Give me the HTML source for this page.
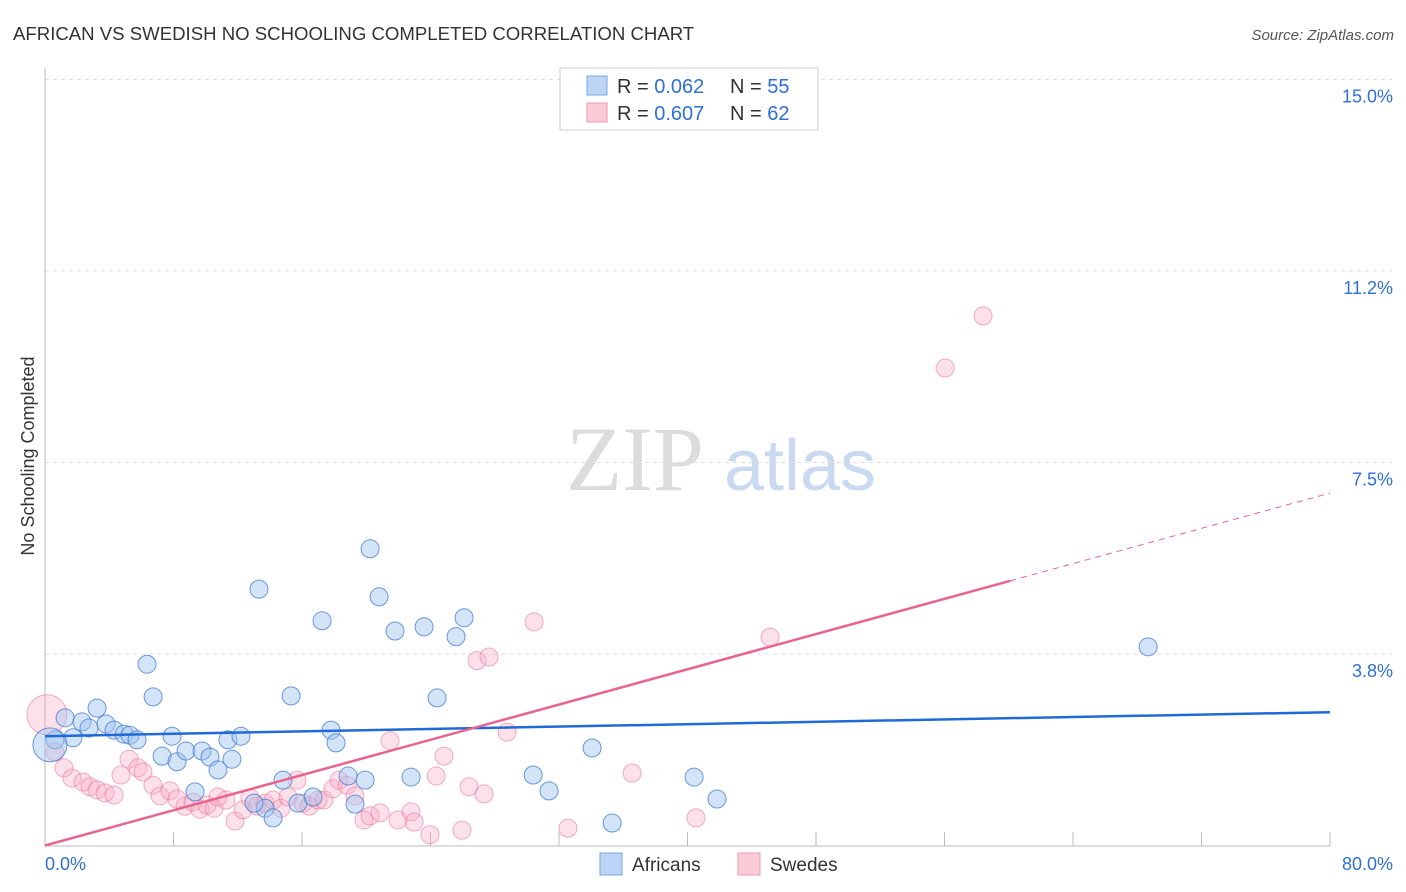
<!DOCTYPE html>
<html><head><meta charset="utf-8">
<style>
body{margin:0;background:#fff;font-family:"Liberation Sans",sans-serif;}
#wrap{position:relative;width:1406px;height:892px;overflow:hidden;}
</style></head>
<body>
<div id="wrap">
<svg id="svg" width="1406" height="892" xmlns="http://www.w3.org/2000/svg">
<text x="13" y="40" font-size="18.6" fill="#333">AFRICAN VS SWEDISH NO SCHOOLING COMPLETED CORRELATION CHART</text>
<text x="1394" y="40" font-size="15" fill="#555" font-style="italic" text-anchor="end">Source: ZipAtlas.com</text>
<text transform="translate(34,456) rotate(-90)" font-size="18" fill="#333" text-anchor="middle">No Schooling Completed</text>
<g>
<text x="635" y="490" font-size="92" fill="#dcdcdc" font-family="Liberation Serif,serif" text-anchor="middle">ZIP</text>
<text x="800" y="490" font-size="72" fill="#c9d9f0" text-anchor="middle">atlas</text>
</g>
<g id="grid"></g>
<g id="axes"></g>
<g id="pts"></g>
<g id="trend"></g>
<g>
<rect x="560" y="68" width="258" height="62" fill="#fff" stroke="#ccc"/>
<rect x="587" y="76" width="20" height="19" fill="#bcd5f5" stroke="#7aa6e0"/>
<rect x="587" y="103" width="20" height="19" fill="#fbcbd8" stroke="#ef9ab3"/>
<text x="617" y="93" font-size="20" fill="#333">R = <tspan fill="#2f6fd6">0.062</tspan></text>
<text x="730" y="93" font-size="20" fill="#333">N = <tspan fill="#2f6fd6">55</tspan></text>
<text x="617" y="120" font-size="20" fill="#333">R = <tspan fill="#2f6fd6">0.607</tspan></text>
<text x="730" y="120" font-size="20" fill="#333">N = <tspan fill="#2f6fd6">62</tspan></text>
</g>
<g>
<rect x="600" y="853" width="22" height="22" fill="#bcd5f5" stroke="#7aa6e0"/>
<text x="632" y="871" font-size="19" fill="#333">Africans</text>
<rect x="738" y="853" width="22" height="22" fill="#fbcbd8" stroke="#ef9ab3"/>
<text x="770" y="871" font-size="19" fill="#333">Swedes</text>
</g>
</svg>
</div>
<script>
const yTicks=[3.8,7.5,11.2,15.0];
const yTickVals=[3.75,7.5,11.25,15.0];
const xTickLabels=["0.0%","80.0%"];
const africansX=[0.62,1.25,1.74,2.30,2.74,3.24,3.80,4.30,4.92,5.29,5.73,6.35,6.73,7.29,7.91,8.22,8.78,9.34,9.78,10.27,10.77,11.39,11.64,12.20,13.32,13.70,14.20,14.82,15.32,15.75,16.69,17.25,17.81,18.12,18.87,19.30,19.93,20.24,20.80,21.79,22.79,23.60,24.41,25.59,26.09,30.39,31.38,34.06,35.31,40.41,41.84,68.68,13.01,0.31];
const africansY=[2.07,2.50,2.11,2.42,2.30,2.69,2.38,2.26,2.18,2.16,2.07,3.55,2.91,1.75,2.14,1.64,1.85,1.05,1.85,1.73,1.48,2.07,1.69,2.14,5.02,0.73,0.54,1.28,2.93,0.83,0.95,4.40,2.26,2.01,1.36,0.81,1.28,5.81,4.87,4.20,1.34,4.28,2.89,4.09,4.46,1.38,1.07,1.91,0.44,1.34,0.91,3.89,0.83,1.97];
const swedesX=[0.12,0.62,1.18,1.68,2.37,2.80,3.24,3.74,4.30,4.73,5.23,5.79,6.10,6.72,7.16,7.78,8.22,8.72,9.22,9.65,10.09,10.52,10.77,11.27,11.83,12.33,12.76,13.20,13.70,14.20,14.69,15.13,15.69,16.06,16.44,17.00,17.37,17.93,18.31,18.80,19.30,19.86,20.24,20.86,21.48,21.98,22.79,22.98,23.97,24.35,24.84,25.96,26.40,26.90,27.33,27.64,28.77,30.45,32.56,36.55,40.53,45.14,56.04,58.40];
const swedesY=[2.56,1.83,1.52,1.32,1.24,1.15,1.09,1.03,0.99,1.38,1.69,1.52,1.44,1.18,0.97,1.07,0.91,0.77,0.85,0.71,0.79,0.73,0.95,0.89,0.48,0.70,0.93,0.77,0.83,0.89,0.73,0.95,1.28,0.83,0.77,0.89,0.89,1.11,1.28,1.18,0.97,0.50,0.58,0.64,2.05,0.50,0.66,0.46,0.21,1.36,1.75,0.30,1.15,3.62,1.01,3.69,2.22,4.38,0.34,1.42,0.54,4.08,9.35,10.37];
const bigAfrican=[53]; const bigSwede=[0];
const blueTrend=[2.14,2.61];
const pinkTrend=[0,6.9];
const pinkSolidEnd=60.1;

const NS="http://www.w3.org/2000/svg";
const X0=45,X1=1330,Y0=845.5;
const xs=v=>X0+v*(X1-X0)/80;
const ys=v=>Y0-v*51.07;
function mk(tag,attrs,parent){const e=document.createElementNS(NS,tag);for(const k in attrs)e.setAttribute(k,attrs[k]);parent.appendChild(e);return e;}
const grid=document.getElementById('grid'),axes=document.getElementById('axes'),pts=document.getElementById('pts'),trend=document.getElementById('trend');
yTickVals.forEach((v,i)=>{
  const l=mk('line',{x1:X0,x2:1392,y1:ys(v),y2:ys(v),stroke:'#ddd','stroke-dasharray':'4,4'},grid);
  
  
  const t=mk('text',{x:1393,y:ys(v)+23,'font-size':18,fill:'#2f6fd6','text-anchor':'end'},grid);
  t.textContent=yTicks[i].toFixed(1)+'%';
  
  
});
const ax=mk('line',{x1:X0,x2:X0,y1:68,y2:846,stroke:'#bbb'},axes);


const bx=mk('line',{x1:X0,x2:X1,y1:846,y2:846,stroke:'#bbb'},axes);


for(let i=1;i<=10;i++){
  const tk=mk('line',{x1:xs(i*8),x2:xs(i*8),y1:832,y2:846,stroke:'#bbb'},axes);
  
  
}
const xl0=mk('text',{x:45,y:870,'font-size':18,fill:'#2f6fd6'},axes);xl0.textContent=xTickLabels[0];


const xl1=mk('text',{x:1393,y:870,'font-size':18,fill:'#2f6fd6','text-anchor':'end'},axes);xl1.textContent=xTickLabels[1];



swedesX.forEach((v,i)=>{
  const c=mk('circle',{cx:xs(v),cy:ys(swedesY[i]),r:bigSwede.includes(i)?20:9,fill:'rgba(248,170,195,0.35)',stroke:'rgba(236,120,155,0.6)','stroke-width':1},pts);
  
  
});
africansX.forEach((v,i)=>{
  const c=mk('circle',{cx:xs(v),cy:ys(africansY[i]),r:bigAfrican.includes(i)?17:9,fill:'rgba(160,195,240,0.45)',stroke:'rgba(60,120,210,0.75)','stroke-width':1},pts);
  
  
});
const bt=mk('line',{x1:xs(0),y1:ys(blueTrend[0]),x2:xs(80),y2:ys(blueTrend[1]),stroke:'#1f6ad6','stroke-width':2.5},trend);


const py=x=>pinkTrend[0]+(pinkTrend[1]-pinkTrend[0])*x/80;
const pt=mk('line',{x1:xs(0),y1:ys(py(0)),x2:xs(pinkSolidEnd),y2:ys(py(pinkSolidEnd)),stroke:'#e8648e','stroke-width':2.5},trend);


const pd=mk('line',{x1:xs(pinkSolidEnd),y1:ys(py(pinkSolidEnd)),x2:xs(80),y2:ys(py(80)),stroke:'#e8648e','stroke-width':1,'stroke-dasharray':'6,5'},trend);


</script>
</body></html>
